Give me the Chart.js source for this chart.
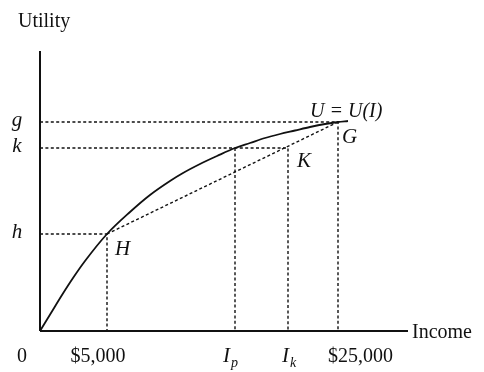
<!DOCTYPE html>
<html>
<head>
<meta charset="utf-8">
<script src="https://cdn.jsdelivr.net/npm/chart.js@4/dist/chart.umd.min.js"></script>
<style>
  html, body { margin: 0; padding: 0; background: #fff; }
  #c { display: block; }
</style>
</head>
<body>
<canvas id="c" width="484" height="372"></canvas>
<script>
// ---- data (schematic units) ----
const incomeCurve  = [0, 11, 22, 33, 45, 67, 90, 110, 130, 143, 160, 177, 195, 210, 225, 240, 255, 270, 285, 298, 308];
const utilityCurve = [0, 18, 36, 53, 70, 97, 119, 136, 150, 158, 167, 175, 183, 188, 193, 197, 200.5, 204, 207, 209, 210];

const pointNames   = ['H', 'K', 'G'];
const pointIncome  = [67, 248, 298];
const pointUtility = [97, 183, 209];

const incomeP = 195;          // I_p: income with utility k on the curve
const xTickValues = [0, 67, 195, 248, 298];
const xTickLabels = ['0', '$5,000', 'I_p', 'I_k', '$25,000'];
const yTickValues = [209, 183, 97];
const yTickLabels = ['g', 'k', 'h'];

const xMax = 368, yMax = 280;

const pt = (x, y) => ({x, y});
const H = pt(pointIncome[0], pointUtility[0]);
const K = pt(pointIncome[1], pointUtility[1]);
const G = pt(pointIncome[2], pointUtility[2]);

const dashed = { borderColor: '#111', borderWidth: 1.4, borderDash: [3, 2.4], showLine: true, pointRadius: 0, fill: false, clip: false, tension: 0 };

const datasets = [
  // axes
  { data: [pt(0, 0), pt(xMax, 0)], borderColor: '#111', borderWidth: 2, showLine: true, pointRadius: 0, clip: false },
  { data: [pt(0, 0), pt(0, yMax)], borderColor: '#111', borderWidth: 2, showLine: true, pointRadius: 0, clip: false },
  // utility curve
  { data: incomeCurve.map((x, i) => pt(x, utilityCurve[i])), borderColor: '#111', borderWidth: 1.8,
    showLine: true, pointRadius: 0, clip: false, cubicInterpolationMode: 'monotone' },
  // chord H-G
  Object.assign({}, dashed, { data: [H, G] }),
  // guides
  Object.assign({}, dashed, { data: [pt(0, H.y), H, pt(H.x, 0)] }),
  Object.assign({}, dashed, { data: [pt(0, K.y), K, pt(K.x, 0)] }),
  Object.assign({}, dashed, { data: [pt(incomeP, K.y), pt(incomeP, 0)] }),
  Object.assign({}, dashed, { data: [pt(0, G.y), G, pt(G.x, 0)] })
];

const SERIF = "'Liberation Serif', 'DejaVu Serif', serif";

const labelPlugin = {
  id: 'labels',
  afterDraw(chart) {
    const ctx = chart.ctx;
    const xs = chart.scales.x, ys = chart.scales.y;
    const px = v => xs.getPixelForValue(v);
    const py = v => ys.getPixelForValue(v);
    ctx.save();
    ctx.fillStyle = '#111';
    ctx.textBaseline = 'alphabetic';
    const font = (it, size) => (it ? 'italic ' : '') + size + 'px ' + SERIF;
    const sub = (main, s, x, y) => {
      ctx.font = font(true, 21);
      ctx.textAlign = 'left';
      ctx.fillText(main, x, y);
      const w = ctx.measureText(main).width;
      ctx.font = font(true, 14);
      ctx.fillText(s, x + w + 1, y + 5);
    };
    // axis titles
    ctx.font = font(false, 20);
    ctx.textAlign = 'left';
    ctx.fillText('Utility', px(0) - 22, py(yMax) - 24);
    ctx.fillText('Income', px(xMax) + 4, py(0) + 7);
    // x tick labels
    const base = py(0) + 31;
    xTickValues.forEach((v, i) => {
      const lab = xTickLabels[i];
      const x = px(v);
      if (lab.indexOf('_') >= 0) {
        const [m, s] = lab.split('_');
        sub(m, s, x + (s === 'p' ? -12 : -6), base);
      } else {
        ctx.font = font(false, 20);
        if (i === 0) { ctx.textAlign = 'center'; ctx.fillText(lab, x - 18, base); }
        else if (i === xTickValues.length - 1) { ctx.textAlign = 'left'; ctx.fillText(lab, x - 10, base); }
        else { ctx.textAlign = 'center'; ctx.fillText(lab, x - 9, base); }
      }
    });
    // y tick labels
    ctx.font = font(true, 21);
    ctx.textAlign = 'center';
    yTickValues.forEach((v, i) => ctx.fillText(yTickLabels[i], px(0) - 23, py(v) + 4));
    // point labels
    ctx.textAlign = 'left';
    ctx.fillText('H', px(H.x) + 8, py(H.y) + 21);
    ctx.fillText('K', px(K.x) + 9, py(K.y) + 19);
    ctx.fillText('G', px(G.x) + 4, py(G.y) + 21);
    ctx.font = font(true, 20);
    ctx.fillText('U = U(I)', px(G.x) - 28, py(G.y) - 5);
    ctx.restore();
  }
};

new Chart(document.getElementById('c'), {
  type: 'scatter',
  data: { datasets },
  options: {
    responsive: false,
    animation: false,
    devicePixelRatio: 1,
    layout: { padding: { left: 40, right: 76, top: 51, bottom: 41 } },
    plugins: { legend: { display: false }, tooltip: { enabled: false } },
    scales: {
      x: { type: 'linear', min: 0, max: xMax, display: false },
      y: { type: 'linear', min: 0, max: yMax, display: false }
    }
  },
  plugins: [labelPlugin]
});
</script>
</body>
</html>
